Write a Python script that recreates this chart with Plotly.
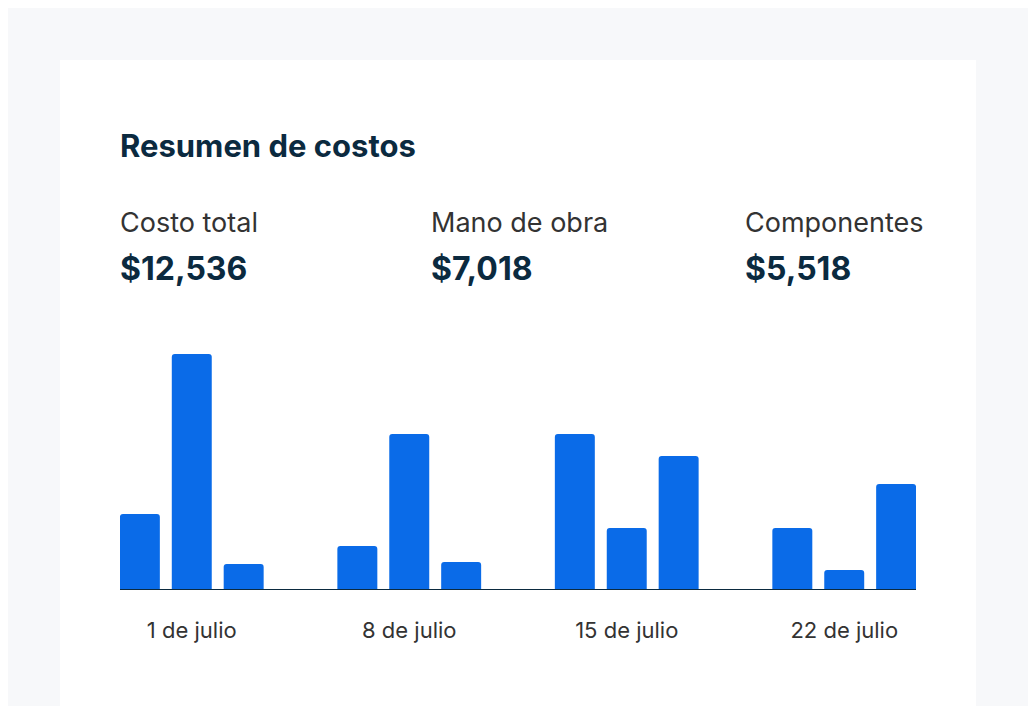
import plotly.graph_objects as go

weeks = ["1 de julio", "8 de julio", "15 de julio", "22 de julio"]
serie_a = [75, 43, 155, 61]
serie_b = [235, 155, 61, 19]
serie_c = [25, 27, 133, 105]
stat_labels = ["Costo total", "Mano de obra", "Componentes"]
stat_values = ["$12,536", "$7,018", "$5,518"]
stat_px = [120, 431, 745]

OFF = 8  # page body margin
L, R, T, B = 120, 916, 349, 589
W, H = 1036, 706
def px(x): return (x - L) / (R - L)
def py(y): return (B - y) / (B - T)

color = "#0A6BE8"
fig = go.Figure()
for s in (serie_a, serie_b, serie_c):
    fig.add_bar(x=list(range(len(weeks))), y=s, marker_color=color, marker_line_width=0, hoverinfo="skip")

fig.update_layout(
    width=W, height=H, margin=dict(l=L - OFF, r=W - R + OFF, t=T - OFF, b=H - B + OFF),
    paper_bgcolor="#F7F8FA", plot_bgcolor="rgba(0,0,0,0)",
    barmode="group", bargap=0.284, bargroupgap=0.23, barcornerradius=3,
    showlegend=False, font=dict(family="Inter", color="#333"),
    xaxis=dict(range=[-0.33, 3.33], tickvals=list(range(4)), ticktext=weeks,
               showgrid=False, zeroline=False, showline=True, linecolor="#0B2A3F", linewidth=1,
               ticks="", ticklabelstandoff=22, tickfont=dict(size=22, color="#333")),
    yaxis=dict(range=[0, 240], visible=False),
)
fig.add_shape(type="rect", xref="paper", yref="paper", layer="below",
              x0=px(60), x1=px(976), y0=py(730), y1=py(60),
              fillcolor="white", line_width=0)
fig.add_annotation(xref="paper", yref="paper", x=px(118), y=py(146), text="<b>Resumen de costos</b>",
                   showarrow=False, xanchor="left", yanchor="middle", font=dict(size=31, color="#0B2A3F"))
for lab, val, x in zip(stat_labels, stat_values, stat_px):
    fig.add_annotation(xref="paper", yref="paper", x=px(x - 2), y=py(222), text=lab, showarrow=False,
                       xanchor="left", yanchor="middle", font=dict(size=27, color="#333"))
    fig.add_annotation(xref="paper", yref="paper", x=px(x - 2), y=py(268), text=f"<b>{val}</b>", showarrow=False,
                       xanchor="left", yanchor="middle", font=dict(size=32, color="#0B2A3F"))
fig.write_html("out.html")
